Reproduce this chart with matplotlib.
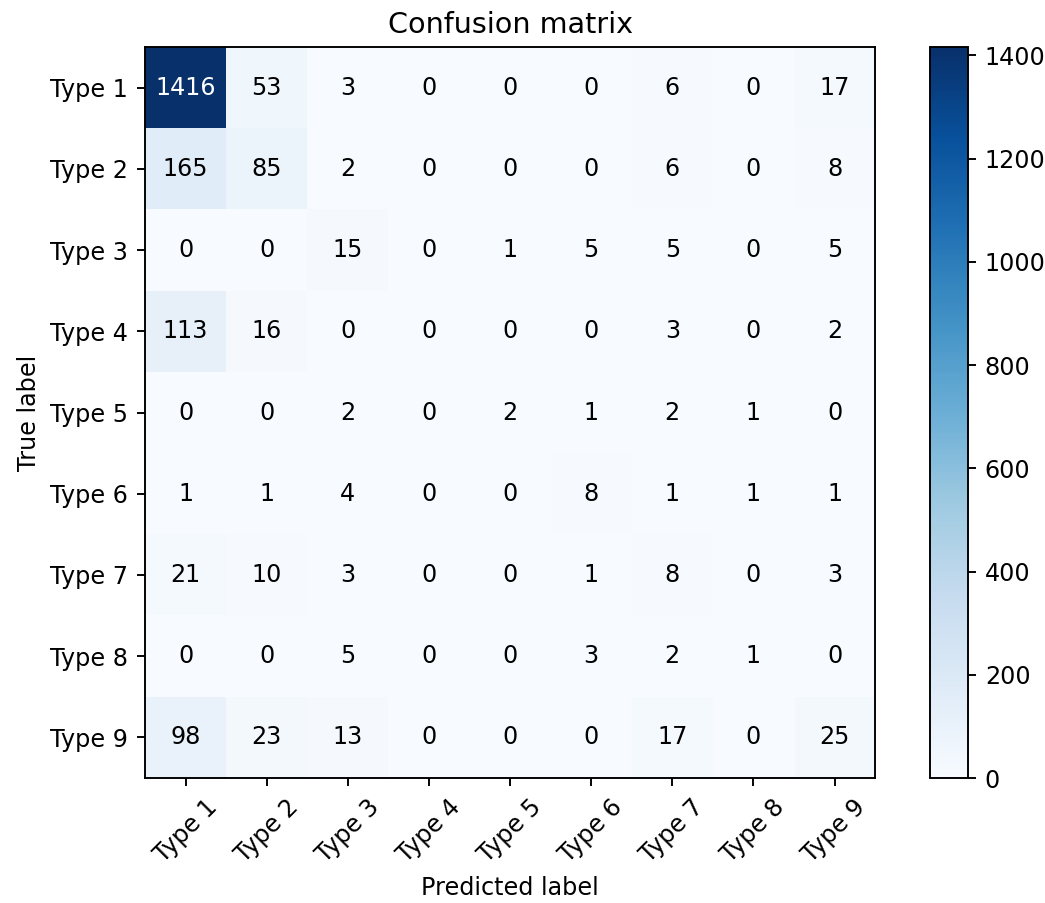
import numpy as np
import matplotlib
matplotlib.use("Agg")
import matplotlib.pyplot as plt

classes = ["Type 1", "Type 2", "Type 3", "Type 4", "Type 5",
           "Type 6", "Type 7", "Type 8", "Type 9"]

cm = np.array([
    [1416, 53, 3, 0, 0, 0, 6, 0, 17],
    [165, 85, 2, 0, 0, 0, 6, 0, 8],
    [0, 0, 15, 0, 1, 5, 5, 0, 5],
    [113, 16, 0, 0, 0, 0, 3, 0, 2],
    [0, 0, 2, 0, 2, 1, 2, 1, 0],
    [1, 1, 4, 0, 0, 8, 1, 1, 1],
    [21, 10, 3, 0, 0, 1, 8, 0, 3],
    [0, 0, 5, 0, 0, 3, 2, 1, 0],
    [98, 23, 13, 0, 0, 0, 17, 0, 25],
])

DPI = 172
fig = plt.figure(figsize=(1045 / DPI, 903 / DPI), dpi=DPI)
ax = fig.add_axes([0.1388, 0.1384, 0.6986, 0.8095])
cax = fig.add_axes([0.890, 0.1384, 0.0364, 0.8095])

im = ax.imshow(cm, interpolation='nearest', cmap=plt.cm.Blues, aspect='auto')
ax.set_title("Confusion matrix")
fig.colorbar(im, cax=cax)

ticks = np.arange(len(classes))
ax.set_xticks(ticks)
ax.set_xticklabels(classes, rotation=45)
ax.set_yticks(ticks)
ax.set_yticklabels(classes)

thresh = cm.max() / 2.
for i in range(cm.shape[0]):
    for j in range(cm.shape[1]):
        ax.text(j, i, format(cm[i, j], 'd'),
                horizontalalignment="center", verticalalignment="center",
                color="white" if cm[i, j] > thresh else "black")

ax.set_ylabel('True label')
ax.set_xlabel('Predicted label')

fig.savefig("out.png", dpi=DPI)
